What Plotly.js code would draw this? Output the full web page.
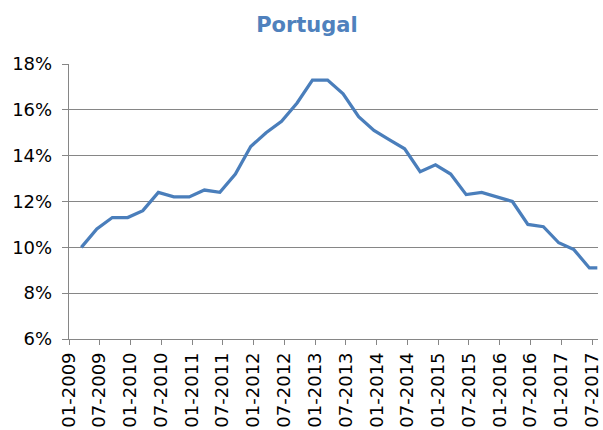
<!DOCTYPE html>
<html>
<head>
<meta charset="utf-8">
<script src="https://cdn.plot.ly/plotly-3.0.1.min.js"></script>
<style>html,body{margin:0;padding:0;background:#fff;}#chart{width:603px;height:430px;}</style>
</head>
<body>
<div id="chart"></div>
<script>
// Quarterly unemployment rate, Portugal (%)
const dates = [
  "2009-03-15","2009-06-15","2009-09-15","2009-12-15",
  "2010-03-15","2010-06-15","2010-09-15","2010-12-15",
  "2011-03-15","2011-06-15","2011-09-15","2011-12-15",
  "2012-03-15","2012-06-15","2012-09-15","2012-12-15",
  "2013-03-15","2013-06-15","2013-09-15","2013-12-15",
  "2014-03-15","2014-06-15","2014-09-15","2014-12-15",
  "2015-03-15","2015-06-15","2015-09-15","2015-12-15",
  "2016-03-15","2016-06-15","2016-09-15","2016-12-15",
  "2017-03-15","2017-06-15","2017-08-01"
];
const rates = [
  10.0, 10.8, 11.3, 11.3,
  11.6, 12.4, 12.2, 12.2,
  12.5, 12.4, 13.2, 14.4,
  15.0, 15.5, 16.3, 17.3,
  17.3, 16.7, 15.7, 15.1,
  14.7, 14.3, 13.3, 13.6,
  13.2, 12.3, 12.4, 12.2,
  12.0, 11.0, 10.9, 10.2,
  9.9, 9.1, 9.1
];
const chartTitle = "Portugal";

const axisGray = "#868686";
const fontFam = "DejaVu Sans, Verdana, sans-serif";

const trace = {
  x: dates,
  y: rates,
  type: "scatter",
  mode: "lines",
  line: {color: "#4a7ebb", width: 3.25},
  hoverinfo: "skip"
};

const layout = {
  width: 603,
  height: 430,
  margin: {l: 69, r: 5, t: 64, b: 91, pad: 0},
  paper_bgcolor: "#ffffff",
  plot_bgcolor: "#ffffff",
  showlegend: false,
  title: {
    text: "<b>" + chartTitle + "</b>",
    font: {family: fontFam, size: 21, color: "#4f81bd"},
    xref: "container", x: 0.509, xanchor: "center",
    yref: "container", y: 0.9435, yanchor: "middle"
  },
  xaxis: {
    type: "date",
    range: ["2009-01-01", "2017-08-05"],
    tick0: "2009-01-01",
    dtick: "M6",
    tickformat: "%m-%Y",
    tickangle: -90,
    ticks: "outside",
    ticklen: 5,
    tickcolor: axisGray,
    tickwidth: 1,
    showgrid: false,
    showline: true,
    linecolor: axisGray,
    linewidth: 1.25,
    zeroline: false,
    tickfont: {family: fontFam, size: 18, color: "#000000"},
    fixedrange: true
  },
  yaxis: {
    range: [6, 18],
    tick0: 6,
    dtick: 2,
    ticksuffix: "%",
    ticks: "outside",
    ticklen: 6,
    tickcolor: axisGray,
    tickwidth: 1,
    ticklabelstandoff: 6,
    showgrid: true,
    gridcolor: axisGray,
    gridwidth: 1.25,
    showline: true,
    linecolor: axisGray,
    linewidth: 1.25,
    zeroline: false,
    tickfont: {family: fontFam, size: 18, color: "#000000"},
    fixedrange: true
  }
};

Plotly.newPlot("chart", [trace], layout, {displayModeBar: false, staticPlot: true});
</script>
</body>
</html>
